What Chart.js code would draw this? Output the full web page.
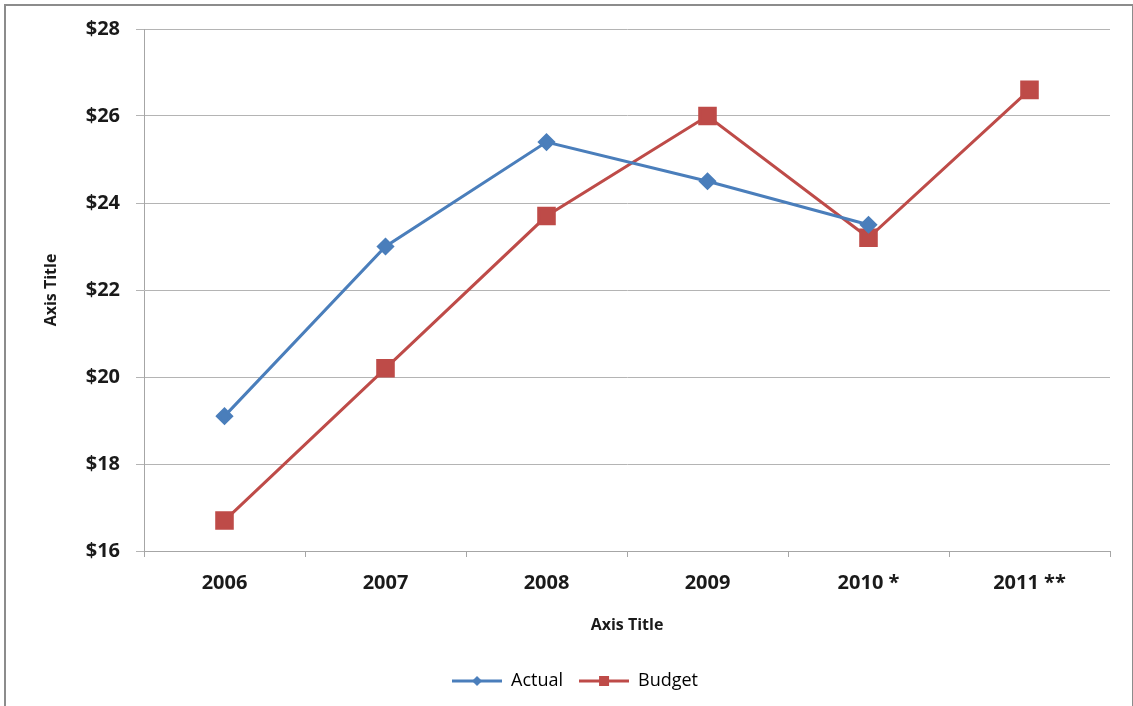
<!DOCTYPE html>
<html>
<head>
<meta charset="utf-8">
<script src="https://cdn.jsdelivr.net/npm/chart.js@4.4.0/dist/chart.umd.min.js"></script>
<style>
  body { margin: 0; background: #fff; }
  #wrap { position: absolute; left: 0; top: 0; width: 1133px; height: 706px; }
  #frame { position: absolute; left: 4px; top: 4px; width: 1126px; height: 720px;
           border: 2px solid #8c8c8c; pointer-events: none; }
</style>
</head>
<body>
<div id="wrap">
  <canvas id="chart" width="1133" height="706"></canvas>
</div>
<div id="frame"></div>
<script>
// data
const years = ['2006', '2007', '2008', '2009', '2010 *', '2011 **'];
const actual = [19.1, 23.0, 25.4, 24.5, 23.5, null];
const budget = [16.7, 20.2, 23.7, 26.0, 23.2, 26.6];

const blue = '#4a7ebb';
const red = '#be4b48';
const fontFam = "'Open Sans', 'DejaVu Sans', sans-serif";

// little line-with-marker images for the legend
function legendIcon(color, shape) {
  const c = document.createElement('canvas');
  c.width = 50; c.height = 14;
  const g = c.getContext('2d');
  g.strokeStyle = color; g.lineWidth = 3;
  g.beginPath(); g.moveTo(0, 7); g.lineTo(50, 7); g.stroke();
  g.fillStyle = color;
  if (shape === 'diamond') {
    g.beginPath(); g.moveTo(25, 2); g.lineTo(30, 7); g.lineTo(25, 12); g.lineTo(20, 7); g.closePath(); g.fill();
  } else {
    g.fillRect(20, 2, 10, 10);
  }
  return c;
}
const icons = { Actual: legendIcon(blue, 'diamond'), Budget: legendIcon(red, 'square') };

// nudge the legend a bit right, like the original
const legendShift = {
  id: 'legendShift',
  afterLayout(chart) {
    chart.legend.left += 20;
    chart.legend.right += 20;
  }
};

new Chart(document.getElementById('chart'), {
  type: 'line',
  data: {
    labels: years,
    datasets: [
      {
        label: 'Actual', data: actual,
        borderColor: blue, backgroundColor: blue, borderWidth: 3,
        pointStyle: 'rectRot', pointRadius: 7, pointHoverRadius: 7,
        tension: 0
      },
      {
        label: 'Budget', data: budget,
        borderColor: red, backgroundColor: red, borderWidth: 3,
        pointStyle: 'rect', pointRadius: 11, pointHoverRadius: 11,
        tension: 0
      }
    ]
  },
  plugins: [legendShift],
  options: {
    responsive: false,
    animation: false,
    layout: { padding: { top: 29, right: 23, left: 0, bottom: 6 } },
    plugins: {
      tooltip: { enabled: false },
      legend: {
        position: 'bottom',
        labels: {
          usePointStyle: true,
          pointStyleWidth: 50,
          padding: 16,
          color: '#222',
          font: { family: fontFam, size: 18 },
          generateLabels: chart => chart.data.datasets.map((ds, i) => ({
            text: ds.label,
            pointStyle: icons[ds.label],
            fillStyle: ds.borderColor,
            strokeStyle: ds.borderColor,
            lineWidth: 0,
            datasetIndex: i,
            hidden: false
          }))
        }
      }
    },
    scales: {
      x: {
        offset: true,
        afterFit: s => { s.height = 105; },
        grid: { offset: true, drawOnChartArea: false, drawTicks: true, tickLength: 6, color: '#a6a6a6' },
        border: { color: '#a6a6a6', width: 1 },
        ticks: { color: '#1a1a1a', padding: 14, font: { family: fontFam, size: 20, weight: 'bold' }, maxRotation: 0 },
        title: { display: true, text: 'Axis Title', color: '#1a1a1a',
                 font: { family: fontFam, size: 16, weight: 'bold' }, padding: { top: 0, bottom: 21 } }
      },
      y: {
        min: 16, max: 28,
        afterFit: s => { s.width = 144; },
        grid: { color: '#b4b4b4', drawTicks: true, tickLength: 8 },
        border: { color: '#a6a6a6', width: 1 },
        ticks: { stepSize: 2, padding: 16, color: '#1a1a1a',
                 font: { family: fontFam, size: 20, weight: 'bold' },
                 callback: v => '$' + v },
        title: { display: true, text: 'Axis Title', color: '#1a1a1a',
                 font: { family: fontFam, size: 16, weight: 'bold' }, padding: { top: 42, bottom: 0 } }
      }
    }
  }
});
</script>
</body>
</html>
